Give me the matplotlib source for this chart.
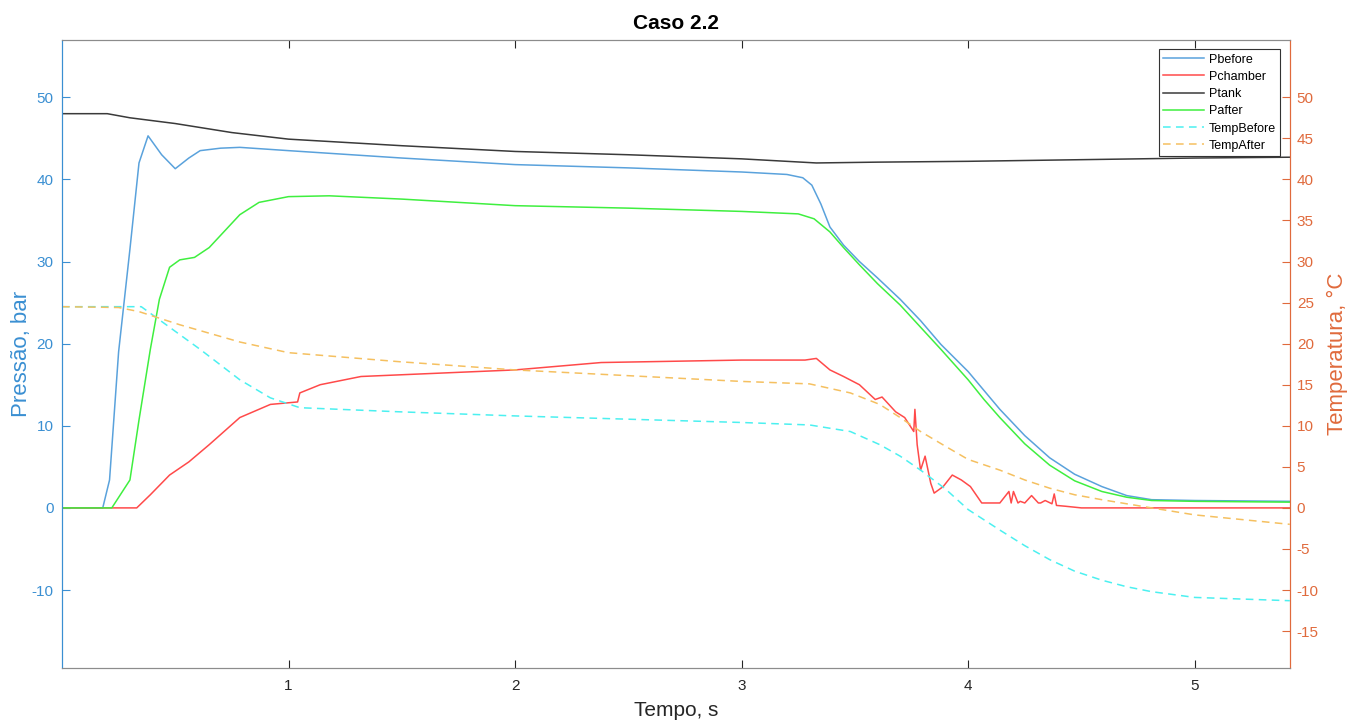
import numpy as np
import matplotlib.pyplot as plt

plt.rcParams['font.family'] = ['Liberation Sans', 'DejaVu Sans']
plt.rcParams['axes.unicode_minus'] = False

# Pressures (bar), time in s
t_pb = [0, 0.18, 0.21, 0.25, 0.30, 0.34, 0.38, 0.44, 0.50, 0.56, 0.61, 0.70, 0.785, 1.0, 1.5, 2.0, 2.5, 3.0, 3.20, 3.27, 3.31, 3.35,
        3.39, 3.45, 3.52, 3.60, 3.70, 3.79, 3.88, 4.0, 4.07, 4.14, 4.25, 4.36, 4.47, 4.59, 4.70, 4.81, 5.0, 5.42]
pbefore = [0, 0, 3.4, 19, 31.5, 42, 45.3, 43.0, 41.3, 42.6, 43.5, 43.8, 43.9, 43.5, 42.6, 41.8, 41.4, 40.9, 40.6, 40.2, 39.3, 37.0,
           34.2, 32.0, 30.0, 28.0, 25.4, 22.8, 19.9, 16.6, 14.3, 12.0, 8.8, 6.1, 4.1, 2.6, 1.5, 1.0, 0.9, 0.8]

t_pc = [0, 0.33, 0.39, 0.475, 0.56, 0.65, 0.785, 0.92, 1.04, 1.05, 1.14, 1.32, 2.0, 2.38, 3.0, 3.28, 3.33, 3.39, 3.45, 3.52, 3.59,
        3.62, 3.68, 3.72, 3.76, 3.765, 3.775, 3.79, 3.81, 3.835, 3.85, 3.89, 3.93, 3.97, 4.01, 4.06, 4.10, 4.14, 4.18, 4.19, 4.20,
        4.22, 4.23, 4.25, 4.28, 4.31, 4.32, 4.34, 4.37, 4.38, 4.39, 4.43, 4.50, 5.42]
pchamber = [0, 0, 1.6, 4.0, 5.6, 7.7, 11.0, 12.6, 12.9, 14.0, 15.0, 16.0, 16.8, 17.7, 18.0, 18.0, 18.2, 16.8, 16.0, 15.0, 13.2,
            13.5, 11.7, 11.0, 9.3, 12.0, 7.7, 4.6, 6.3, 3.0, 1.8, 2.6, 4.0, 3.4, 2.6, 0.6, 0.6, 0.6, 2.0, 0.6, 2.0,
            0.6, 0.8, 0.6, 1.5, 0.6, 0.6, 0.9, 0.5, 1.7, 0.3, 0.2, 0, 0]

t_pt = [0, 0.2, 0.3, 0.5, 0.75, 1.0, 1.5, 2.0, 2.5, 3.0, 3.33, 3.6, 4.0, 4.5, 5.0, 5.42]
ptank = [48.0, 48.0, 47.5, 46.8, 45.7, 44.9, 44.1, 43.4, 43.0, 42.5, 42.0, 42.1, 42.2, 42.4, 42.6, 42.7]

t_pa = [0, 0.22, 0.30, 0.34, 0.39, 0.43, 0.475, 0.52, 0.585, 0.65, 0.785, 0.87, 1.0, 1.18, 1.5, 2.0, 2.5, 3.0, 3.25, 3.32, 3.39,
        3.45, 3.52, 3.60, 3.70, 3.79, 3.88, 4.0, 4.07, 4.14, 4.25, 4.36, 4.47, 4.59, 4.70, 4.81, 5.0, 5.42]
pafter = [0, 0, 3.4, 10.7, 19.3, 25.4, 29.3, 30.2, 30.5, 31.7, 35.7, 37.2, 37.9, 38.0, 37.6, 36.8, 36.5, 36.1, 35.8, 35.2, 33.6,
          31.7, 29.6, 27.3, 24.7, 22.0, 19.3, 15.6, 13.2, 11.0, 7.8, 5.2, 3.3, 2.0, 1.3, 0.9, 0.8, 0.7]

# Temperatures (°C)
t_tb = [0, 0.35, 0.43, 0.52, 0.61, 0.70, 0.785, 0.92, 1.05, 1.49, 2.0, 2.5, 3.0, 3.3, 3.48, 3.61, 3.70, 3.79, 3.90, 4.0, 4.14,
        4.25, 4.36, 4.47, 4.59, 4.70, 4.81, 5.0, 5.42]
tempbefore = [24.5, 24.5, 22.9, 21.1, 19.3, 17.4, 15.6, 13.4, 12.2, 11.7, 11.2, 10.8, 10.4, 10.1, 9.3, 7.7, 6.3, 4.6, 2.3, -0.2, -2.7,
              -4.6, -6.3, -7.7, -8.8, -9.6, -10.2, -10.9, -11.3]

t_ta = [0, 0.25, 0.34, 0.52, 0.785, 1.0, 1.49, 2.0, 2.5, 3.0, 3.3, 3.48, 3.61, 3.70, 3.79, 3.90, 4.0, 4.14, 4.25, 4.36, 4.47,
        4.59, 4.81, 5.0, 5.42]
tempafter = [24.5, 24.4, 23.9, 22.3, 20.2, 18.9, 17.8, 16.8, 16.1, 15.4, 15.1, 14.0, 12.6, 11.0, 9.3, 7.5, 5.9, 4.6, 3.4, 2.4, 1.6,
             1.0, 0.0, -0.85, -2.0]

c_left = '#3a8fd2'
c_right = '#e06a3c'
grey = '#262626'

fig = plt.figure(figsize=(13.59, 7.23), dpi=100)
ax1 = fig.add_axes([0.0456, 0.076, 0.9035, 0.869])
ax2 = ax1.twinx()

l1, = ax1.plot(t_pb, pbefore, color='#5aa2dc', lw=1.1, label='Pbefore')
l2, = ax1.plot(t_pc, pchamber, color='#ff4a4a', lw=1.1, label='Pchamber')
l3, = ax1.plot(t_pt, ptank, color='#3a3a3a', lw=1.1, label='Ptank')
l4, = ax1.plot(t_pa, pafter, color='#3fef3f', lw=1.1, label='Pafter')
l5, = ax2.plot(t_tb, tempbefore, color='#4cf0f0', lw=1.1, ls=(0, (5, 3.5)), label='TempBefore')
l6, = ax2.plot(t_ta, tempafter, color='#f5c060', lw=1.1, ls=(0, (5, 3.5)), label='TempAfter')

ax1.set_xlim(0, 5.42)
ax1.set_ylim(-19.5, 57)
ax2.set_ylim(-19.5, 57)
ax1.set_xticks([1, 2, 3, 4, 5])
ax1.set_yticks(np.arange(-10, 51, 10))
ax2.set_yticks(np.arange(-15, 51, 5))

ax1.tick_params(axis='x', direction='in', top=True, length=6, colors=grey, labelsize=11, pad=8)
ax1.tick_params(axis='y', direction='in', length=6, colors=c_left, labelsize=11, pad=6)
ax2.tick_params(axis='y', direction='in', length=6, colors=c_right, labelsize=11, pad=5)

for ax in (ax1, ax2):
    ax.spines['top'].set_color('#8c8c8c')
    ax.spines['bottom'].set_color('#8c8c8c')
    ax.spines['left'].set_color(c_left)
    ax.spines['right'].set_color(c_right)

ax1.set_ylabel('Pressão, bar', color=c_left, fontsize=16, labelpad=0)
ax2.set_ylabel('Temperatura, °C', color=c_right, fontsize=16, labelpad=6)
ax1.set_xlabel('Tempo, s', color=grey, fontsize=15, labelpad=6)
ax1.set_title('Caso 2.2', fontsize=15, fontweight='bold', pad=8)

leg = ax2.legend(handles=[l1, l2, l3, l4, l5, l6], loc='upper right', bbox_to_anchor=(0.992, 0.985),
                 fontsize=9, fancybox=False, framealpha=1, edgecolor='#333333',
                 handlelength=3.3, handletextpad=0.35, labelspacing=0.42, borderpad=0.35, borderaxespad=0)
leg.get_frame().set_linewidth(0.8)

fig.savefig('out.png', dpi=100)
